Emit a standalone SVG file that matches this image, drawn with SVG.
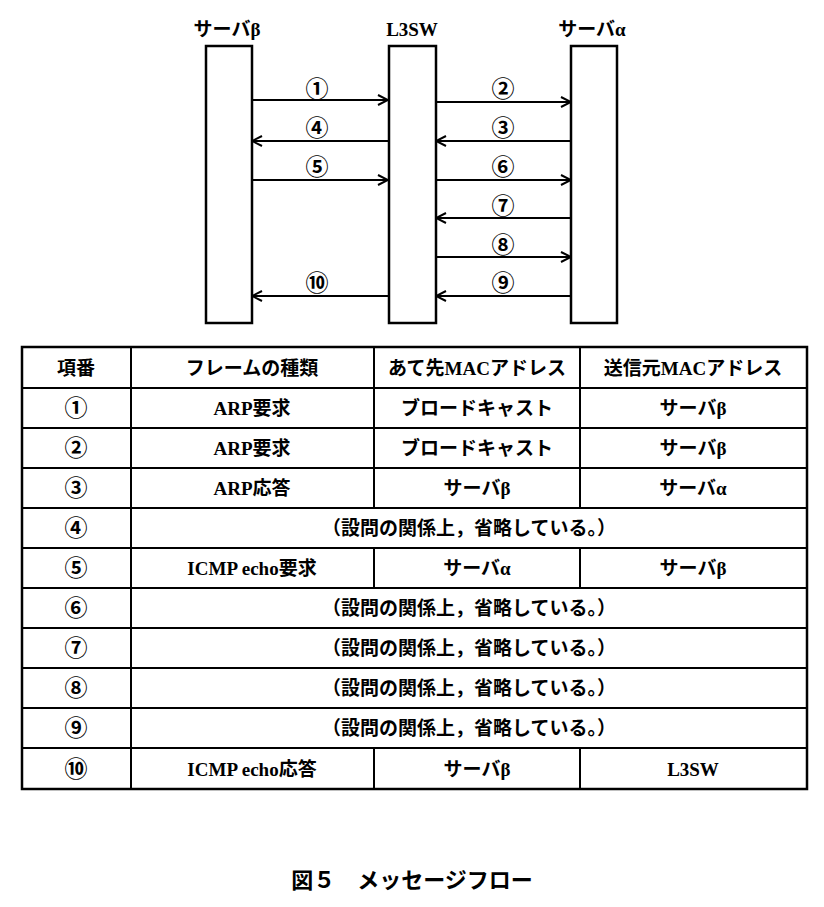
<svg xmlns="http://www.w3.org/2000/svg" width="824" height="907" viewBox="0 0 824 907">
<style>
.t{font-family:"Liberation Serif","Noto Sans CJK JP",serif;font-weight:bold;font-size:19px;text-anchor:middle;fill:#000}
.c{font-size:23px}
.n{font-family:"Liberation Serif","Noto Sans CJK JP",serif;font-weight:bold;font-size:23px;text-anchor:middle;fill:#000}
.box{fill:#fff;stroke:#000;stroke-width:2.5}
.ln{stroke:#000;stroke-width:2;fill:none}
.cap{font-family:"Noto Sans CJK JP",sans-serif;font-weight:bold;font-size:22px;text-anchor:middle}
</style>
<defs><marker id="ah" markerWidth="12" markerHeight="12" refX="11" refY="6" orient="auto" markerUnits="userSpaceOnUse"><path d="M1,1 L11,6 L1,11" fill="none" stroke="#000" stroke-width="2"/></marker></defs>
<rect width="824" height="907" fill="#fff"/>
<g id="beta"><text class="t" x="227" y="36" font-size="21">サーバβ</text><rect class="box" x="206" y="46" width="46" height="277"/></g>
<g id="l3sw"><text class="t" x="412" y="36" font-size="21">L3SW</text><rect class="box" x="389" y="46" width="47" height="277"/></g>
<g id="alpha"><text class="t" x="592" y="36" font-size="21">サーバα</text><rect class="box" x="571" y="46" width="46" height="277"/></g>
<g id="connectors">
<line class="ln" x1="252" y1="100" x2="388" y2="100" marker-end="url(#ah)"/><text class="n" x="317" y="97">①</text>
<line class="ln" x1="436" y1="102" x2="571" y2="102" marker-end="url(#ah)"/><text class="n" x="503" y="97">②</text>
<line class="ln" x1="571" y1="141" x2="436" y2="141" marker-end="url(#ah)"/><text class="n" x="503" y="136">③</text>
<line class="ln" x1="388" y1="141" x2="252" y2="141" marker-end="url(#ah)"/><text class="n" x="317" y="136">④</text>
<line class="ln" x1="252" y1="180" x2="388" y2="180" marker-end="url(#ah)"/><text class="n" x="317" y="175">⑤</text>
<line class="ln" x1="436" y1="180" x2="571" y2="180" marker-end="url(#ah)"/><text class="n" x="503" y="175">⑥</text>
<line class="ln" x1="571" y1="218" x2="436" y2="218" marker-end="url(#ah)"/><text class="n" x="503" y="214">⑦</text>
<line class="ln" x1="436" y1="257" x2="571" y2="257" marker-end="url(#ah)"/><text class="n" x="503" y="253">⑧</text>
<line class="ln" x1="571" y1="296" x2="436" y2="296" marker-end="url(#ah)"/><text class="n" x="503" y="291">⑨</text>
<line class="ln" x1="388" y1="296" x2="252" y2="296" marker-end="url(#ah)"/><text class="n" x="317" y="291">⑩</text>
</g>
<g id="table">
<rect x="22" y="347" width="785" height="442" fill="none" stroke="#000" stroke-width="2.5"/>
<g class="ln">
<line x1="22" y1="388" x2="807" y2="388"/><line x1="22" y1="428" x2="807" y2="428"/><line x1="22" y1="468" x2="807" y2="468"/><line x1="22" y1="508" x2="807" y2="508"/><line x1="22" y1="548" x2="807" y2="548"/><line x1="22" y1="588" x2="807" y2="588"/><line x1="22" y1="628" x2="807" y2="628"/><line x1="22" y1="668" x2="807" y2="668"/><line x1="22" y1="708" x2="807" y2="708"/><line x1="22" y1="748" x2="807" y2="748"/>
<line x1="131" y1="347" x2="131" y2="789"/>
<line x1="374" y1="347" x2="374" y2="508"/><line x1="580" y1="347" x2="580" y2="508"/>
<line x1="374" y1="548" x2="374" y2="588"/><line x1="580" y1="548" x2="580" y2="588"/>
<line x1="374" y1="748" x2="374" y2="789"/><line x1="580" y1="748" x2="580" y2="789"/>
</g>
<g class="t">
<text x="76" y="375">項番</text><text x="252" y="375">フレームの種類</text><text x="477" y="375">あて先MACアドレス</text><text x="693" y="375">送信元MACアドレス</text>
<text class="c" x="76" y="416">①</text><text x="252" y="415">ARP要求</text><text x="477" y="415">ブロードキャスト</text><text x="693" y="415">サーバβ</text>
<text class="c" x="76" y="456">②</text><text x="252" y="455">ARP要求</text><text x="477" y="455">ブロードキャスト</text><text x="693" y="455">サーバβ</text>
<text class="c" x="76" y="496">③</text><text x="252" y="495">ARP応答</text><text x="477" y="495">サーバβ</text><text x="693" y="495">サーバα</text>
<text class="c" x="76" y="536">④</text><text x="469" y="535">（設問の関係上，省略している。）</text>
<text class="c" x="76" y="576">⑤</text><text x="252" y="575">ICMP echo要求</text><text x="477" y="575">サーバα</text><text x="693" y="575">サーバβ</text>
<text class="c" x="76" y="616">⑥</text><text x="469" y="615">（設問の関係上，省略している。）</text>
<text class="c" x="76" y="656">⑦</text><text x="469" y="655">（設問の関係上，省略している。）</text>
<text class="c" x="76" y="696">⑧</text><text x="469" y="695">（設問の関係上，省略している。）</text>
<text class="c" x="76" y="736">⑨</text><text x="469" y="735">（設問の関係上，省略している。）</text>
<text class="c" x="76" y="777">⑩</text><text x="252" y="776">ICMP echo応答</text><text x="477" y="776">サーバβ</text><text x="693" y="776">L3SW</text>
</g>
</g>
<text class="cap" x="412" y="888">図５　メッセージフロー</text>
</svg>
